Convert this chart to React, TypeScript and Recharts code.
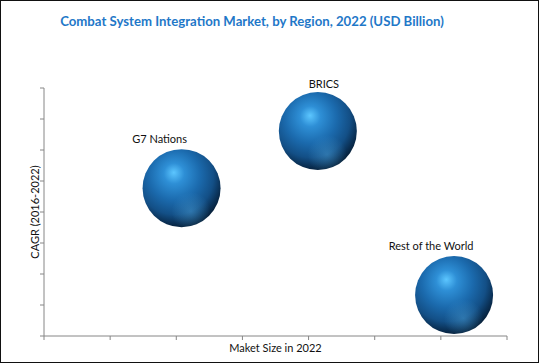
import React from "react";
import { ScatterChart, Scatter, XAxis, YAxis, ZAxis, LabelList } from "recharts";

const regions = ["G7 Nations", "BRICS", "Rest of the World"];
const marketSize = [2.08, 4.14, 6.2];
const cagr = [4.77, 6.61, 1.32];
const bubbleSize = [1, 1, 1];

const xTicks = [0, 1, 2, 3, 4, 5, 6, 7];
const yTicks = [0, 1, 2, 3, 4, 5, 6, 7, 8];

const data = regions.map((name, i) => ({
  name,
  x: marketSize[i],
  y: cagr[i],
  z: bubbleSize[i],
}));

// label placement relative to bubble centre
const labelOffset: Record<string, [number, number]> = {
  "G7 Nations": [-22, -50],
  BRICS: [6, -48],
  "Rest of the World": [-23, -50],
};

const FONT = "Lato, 'Open Sans', sans-serif";
const AXIS = "#868686";

function Sphere(props: any) {
  const { cx, cy, size } = props;
  const r = Math.sqrt(size / Math.PI);
  return (
    <g>
      <circle cx={cx} cy={cy} r={r} fill="url(#sphereBody)" />
      <circle cx={cx} cy={cy} r={r} fill="url(#sphereGlow)" />
    </g>
  );
}

function RegionLabel(props: any) {
  const { x, y, width, height, value } = props;
  const cx = x + width / 2;
  const cy = y + height / 2;
  const [dx, dy] = labelOffset[value] || [0, -50];
  return (
    <text
      x={cx + dx}
      y={cy + dy}
      textAnchor="middle"
      dominantBaseline="central"
      fontFamily={FONT}
      fontSize={11}
      fill="#111"
    >
      {value}
    </text>
  );
}

const noLabel = () => "";

export default function App() {
  return (
    <div
      style={{
        position: "absolute",
        left: 0,
        top: 0,
        width: 539,
        height: 363,
        boxSizing: "border-box",
        border: "1px solid #111",
        background: "#fff",
      }}
    >
      <div
        style={{
          position: "absolute",
          left: 0,
          top: 12,
          width: 502,
          textAlign: "center",
          fontFamily: FONT,
          fontWeight: 700,
          fontSize: 13.2,
          color: "#1f78c8",
        }}
      >
        Combat System Integration Market, by Region, 2022 (USD Billion)
      </div>
      <div style={{ position: "absolute", left: -1, top: -1 }}>
        <ScatterChart
          width={539}
          height={363}
          margin={{ top: 88, right: 32, bottom: 0, left: 0 }}
        >
          <defs>
            <radialGradient id="sphereBody" cx="0.42" cy="0.36" r="0.66" fx="0.4" fy="0.3">
              <stop offset="0" stopColor="#5cc6ff" />
              <stop offset="0.2" stopColor="#2e8fd6" />
              <stop offset="0.5" stopColor="#1b6aad" />
              <stop offset="0.75" stopColor="#134f86" />
              <stop offset="0.9" stopColor="#0a3055" />
              <stop offset="1" stopColor="#061e36" />
            </radialGradient>
            <radialGradient id="sphereGlow" cx="0.62" cy="0.8" r="0.25">
              <stop offset="0" stopColor="#4fa6de" stopOpacity={0.45} />
              <stop offset="1" stopColor="#4fa6de" stopOpacity={0} />
            </radialGradient>
          </defs>
          <XAxis
            type="number"
            dataKey="x"
            domain={[0, 7]}
            ticks={xTicks}
            tickFormatter={noLabel}
            height={27}
            tickSize={4}
            stroke={AXIS}
            interval={0}
            label={{
              value: "Maket Size in 2022",
              position: "insideBottom",
              offset: 11,
              style: { fontFamily: FONT, fontSize: 11, fill: "#111" },
            }}
          />
          <YAxis
            type="number"
            dataKey="y"
            domain={[0, 8]}
            ticks={yTicks}
            tickFormatter={noLabel}
            width={44}
            tickSize={4}
            stroke={AXIS}
            interval={0}
            label={{
              value: "CAGR (2016-2022)",
              angle: -90,
              position: "insideLeft",
              offset: 35,
              style: { fontFamily: FONT, fontSize: 11, fill: "#111", textAnchor: "middle" },
            }}
          />
          <ZAxis type="number" dataKey="z" range={[4778, 4778]} />
          <Scatter data={data} shape={Sphere} isAnimationActive={false}>
            <LabelList dataKey="name" content={RegionLabel} />
          </Scatter>
        </ScatterChart>
      </div>
    </div>
  );
}
